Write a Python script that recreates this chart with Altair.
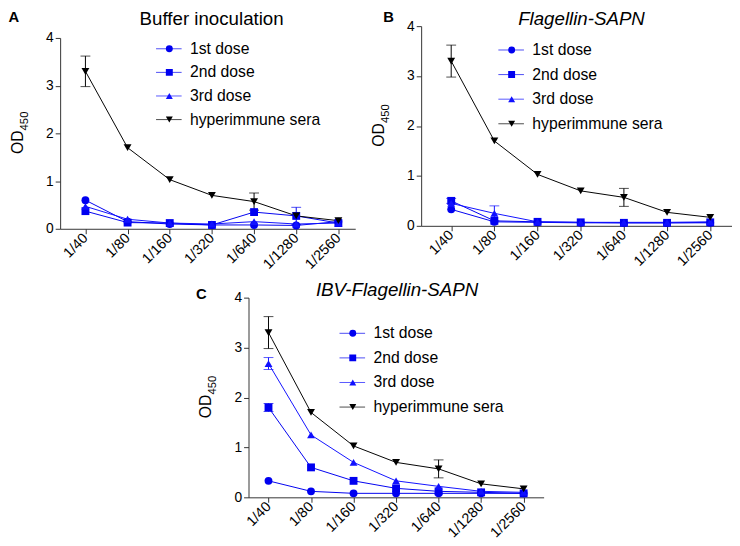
import altair as alt
import pandas as pd

FONT = "Liberation Sans"

dilutions = ["1/40", "1/80", "1/160", "1/320", "1/640", "1/1280", "1/2560"]
series_names = ["1st dose", "2nd dose", "3rd dose", "hyperimmune sera"]
series_colors = ["#0000f0", "#0000f0", "#1010ff", "#000000"]
series_shapes = ["circle", "square", "triangle-up", "triangle-down"]
y_title_main = "OD"
y_title_sub = "450"

# hyperimmune sera (same in all panels)
hyper_vals = [3.30, 1.70, 1.03, 0.70, 0.57, 0.27, 0.17]
hyper_err = [0.32, 0.0, 0.0, 0.0, 0.18, 0.0, 0.0]

# Panel A: Buffer inoculation
a_dose1 = [0.60, 0.15, 0.10, 0.08, 0.08, 0.07, 0.15]
a_dose2 = [0.37, 0.13, 0.12, 0.08, 0.35, 0.27, 0.12]
a_dose3 = [0.47, 0.20, 0.12, 0.10, 0.15, 0.10, 0.12]
a_dose1_err = [0, 0, 0, 0, 0, 0, 0]
a_dose2_err = [0, 0, 0, 0, 0, 0.18, 0]
a_dose3_err = [0, 0, 0, 0, 0, 0, 0]

# Panel B: Flagellin-SAPN
b_dose1 = [0.33, 0.08, 0.07, 0.06, 0.06, 0.06, 0.06]
b_dose2 = [0.50, 0.10, 0.08, 0.07, 0.06, 0.06, 0.07]
b_dose3 = [0.45, 0.25, 0.08, 0.07, 0.07, 0.07, 0.08]
b_dose1_err = [0, 0, 0, 0, 0, 0, 0]
b_dose2_err = [0.05, 0, 0, 0, 0, 0, 0]
b_dose3_err = [0, 0.15, 0, 0, 0, 0, 0]

# Panel C: IBV-Flagellin-SAPN
c_dose1 = [0.33, 0.12, 0.08, 0.08, 0.08, 0.08, 0.08]
c_dose2 = [1.80, 0.60, 0.33, 0.18, 0.12, 0.10, 0.08]
c_dose3 = [2.68, 1.25, 0.70, 0.33, 0.22, 0.12, 0.10]
c_dose1_err = [0, 0, 0, 0, 0, 0, 0]
c_dose2_err = [0.08, 0, 0, 0, 0, 0, 0]
c_dose3_err = [0.12, 0, 0, 0, 0, 0, 0]


def build(vals, errs):
    rows = []
    for s, v, e in zip(series_names, vals, errs):
        for i, (d, y, err) in enumerate(zip(dilutions, v, e)):
            rows.append(dict(dilution=d, idx=i, series=s, series2=s, od=y,
                             err=err, lo=y - err, hi=y + err))
    return pd.DataFrame(rows)


def label(text, size, x, y, angle=0, align="center", baseline="middle", weight="normal", style="normal"):
    return alt.Chart(pd.DataFrame({"t": [text]})).mark_text(
        font=FONT, fontSize=size, fontWeight=weight, fontStyle=style, angle=angle,
        align=align, baseline=baseline, color="#000"
    ).encode(text="t:N", x=alt.value(x), y=alt.value(y))


def panel(df, letter, name, italic, w, h, y_top, pad, align, legx, legy, clip_h,
          name_y, letter_x, letter_y, name_dx=0, extend_left=None):
    xs = alt.X("dilution:N", sort=dilutions,
               scale=alt.Scale(type="point", domain=dilutions, padding=pad, align=align),
               axis=alt.Axis(title=None, labelAngle=-45, labelAlign="right", labelBaseline="middle",
                             labelFont=FONT, labelFontSize=14.5, labelColor="#000",
                             tickSize=5, labelPadding=2, domainColor="#333", tickColor="#333",
                             grid=False))
    ys = alt.Y("od:Q", scale=alt.Scale(domain=[0, 4], nice=False, range=[h, y_top]),
               axis=alt.Axis(values=[0, 1, 2, 3, 4], format="d", title=None,
                             labelFont=FONT, labelFontSize=14, labelColor="#000",
                             tickSize=5, labelPadding=2, domainColor="#333", tickColor="#333",
                             grid=False))
    leg1 = alt.Legend(orient="none", legendX=legx, legendY=legy, title=None,
                      symbolType="stroke", symbolSize=676, symbolStrokeWidth=1,
                      labelFont=FONT, labelFontSize=16, labelColor="#000", labelOffset=8,
                      clipHeight=clip_h, rowPadding=0, padding=0, labelLimit=300)
    leg2 = alt.Legend(orient="none", legendX=legx, legendY=legy, title=None,
                      symbolSize=50, symbolOffset=10, symbolStrokeWidth=0,
                      labelExpr="''", labelFontSize=1, labelOffset=0,
                      clipHeight=clip_h, rowPadding=0, padding=0)
    color = alt.Color("series:N", scale=alt.Scale(domain=series_names, range=series_colors), legend=leg1)

    base = alt.Chart(df)
    lines = base.mark_line(strokeWidth=1).encode(x=xs, y=ys, color=color, order="idx:Q")
    errd = base.transform_filter("datum.err > 0")
    bars = errd.mark_rule(strokeWidth=1).encode(x=xs, y="lo:Q", y2="hi:Q", color=color)
    cap_hi = errd.mark_tick(size=10, thickness=1).encode(x=xs, y="hi:Q", color=color)
    cap_lo = errd.mark_tick(size=10, thickness=1).encode(x=xs, y="lo:Q", color=color)
    pts = base.mark_point(filled=True, size=64, opacity=1).encode(
        x=xs, y=ys,
        shape=alt.Shape("series2:N", scale=alt.Scale(range=series_shapes), legend=leg2),
        fill=alt.Fill("series2:N", scale=alt.Scale(range=series_colors), legend=leg2),
    )
    mid = (h + y_top) / 2
    layers = [
        lines, bars, cap_hi, cap_lo, pts,
        label(name, 19, w / 2 + name_dx, name_y, style="italic" if italic else "normal"),
        label(letter, 15, letter_x, letter_y, weight="bold"),
        label(y_title_main, 16, -38, mid + 21, angle=270, align="left", baseline="alphabetic"),
        label(y_title_sub, 11.5, -33, mid - 3, angle=270, align="left", baseline="alphabetic"),
    ]
    if extend_left is not None:
        # invisible anchor that only widens the panel's bounds (used for centering)
        layers.append(alt.Chart(pd.DataFrame({"t": [0]})).mark_point(opacity=0, size=1).encode(
            x=alt.value(extend_left), y=alt.value(h / 2)))
    return alt.layer(*layers).properties(width=w, height=h)


df_a = build([a_dose1, a_dose2, a_dose3, hyper_vals], [a_dose1_err, a_dose2_err, a_dose3_err, hyper_err])
df_b = build([b_dose1, b_dose2, b_dose3, hyper_vals], [b_dose1_err, b_dose2_err, b_dose3_err, hyper_err])
df_c = build([c_dose1, c_dose2, c_dose3, hyper_vals], [c_dose1_err, c_dose2_err, c_dose3_err, hyper_err])

pa = panel(df_a, "A", "Buffer inoculation", False, 300, 206, 12, 0.5, 0.6,
           97, 11, 24, -7, -47, -9, 4)
pb = panel(df_b, "B", "Flagellin-SAPN", True, 316, 203, 0, 0.6, 0.58,
           78, 12, 24.5, -7, -33, -9, 5)
pc = panel(df_c, "C", "IBV-Flagellin-SAPN", True, 300, 203, 0, 0.47, 0.5,
           92, 24, 24.5, -8, -48, -4, 1, extend_left=-80)

res_s = dict(color="independent", fill="independent", shape="independent")
top = alt.hconcat(pa, pb, spacing=16).resolve_scale(**res_s).resolve_legend(**res_s)
chart = alt.vconcat(top, pc, spacing=10, center=True).resolve_scale(**res_s).resolve_legend(**res_s)
chart = chart.properties(padding={"top": -2, "left": 0, "right": 0, "bottom": 0}).configure(
    font=FONT).configure_view(stroke=None)

chart.save("out.html", embed_options={"renderer": "svg", "actions": False})
